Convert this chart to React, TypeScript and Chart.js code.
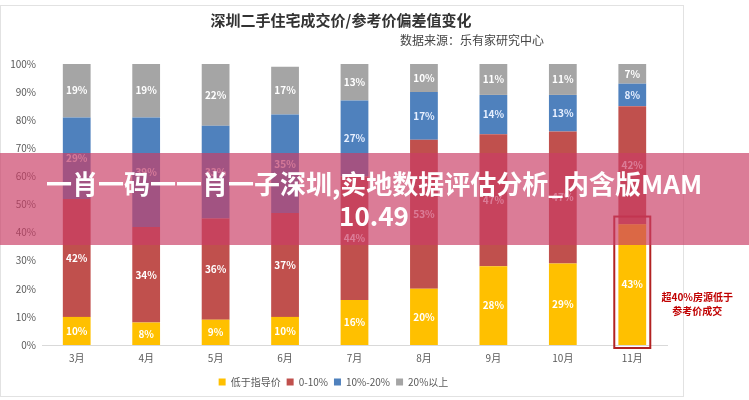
import React, { useEffect, useRef } from "react";
import { Chart, registerables } from "chart.js";

Chart.register(...registerables);

const categories = ["3月", "4月", "5月", "6月", "7月", "8月", "9月", "10月", "11月"];
const seriesNames = ["低于指导价", "0-10%", "10%-20%", "20%以上"];
const belowGuide = [10, 8, 9, 10, 16, 20, 28, 29, 43];
const range0to10 = [42, 34, 36, 37, 44, 53, 47, 47, 42];
const range10to20 = [29, 39, 33, 35, 27, 17, 14, 13, 8];
const above20 = [19, 19, 22, 17, 13, 10, 11, 11, 7];
const yTicks = [0, 10, 20, 30, 40, 50, 60, 70, 80, 90, 100];
const titleText = "深圳二手住宅成交价/参考价偏差值变化";
const subtitleText = "数据来源：乐有家研究中心";
const noteLines = ["超40%房源低于", "参考价成交"];
const bannerLines = ["一肖一码一一肖一子深圳,实地数据评估分析_内含版MAM", "10.49"];

const colors = ["#FFC000", "#C0504D", "#4F81BD", "#A5A5A5"];
const FONT = "'Microsoft YaHei', 'Noto Sans CJK SC', 'Noto Sans', sans-serif";

const decorPlugin = {
  id: "decor",
  beforeDraw(chart: any) {
    const ctx = chart.ctx;
    ctx.save();
    ctx.fillStyle = "#fff";
    ctx.fillRect(0, 0, chart.width, chart.height);
    ctx.strokeStyle = "#e2e2e2";
    ctx.lineWidth = 1;
    ctx.strokeRect(0.5, 5.5, 683, 391);
    ctx.fillStyle = "#333";
    ctx.font = `bold 15px ${FONT}`;
    ctx.textAlign = "center";
    ctx.textBaseline = "middle";
    ctx.fillText(titleText, 341, 20);
    ctx.fillStyle = "#444";
    ctx.font = `12px ${FONT}`;
    ctx.textAlign = "left";
    ctx.fillText(subtitleText, 400, 40);
    ctx.restore();
  },
  afterDatasetsDraw(chart: any) {
    const ctx = chart.ctx;
    ctx.save();
    ctx.font = `bold 10px ${FONT}`;
    ctx.textAlign = "center";
    ctx.textBaseline = "middle";
    chart.data.datasets.forEach((ds: any, di: number) => {
      const meta = chart.getDatasetMeta(di);
      meta.data.forEach((bar: any, i: number) => {
        const v = ds.data[i];
        const cy = (bar.y + bar.base) / 2;
        ctx.fillStyle = di === 2 ? "#e8f0ff" : "#ffffff";
        ctx.fillText(v + "%", bar.x, cy);
      });
    });
    const yScale = chart.scales.y;
    const last = chart.getDatasetMeta(0).data[categories.length - 1];
    const top = yScale.getPixelForValue(45) - 2;
    const bottom = yScale.getPixelForValue(0) + 3;
    ctx.strokeStyle = "#B22222";
    ctx.lineWidth = 2;
    ctx.strokeRect(last.x - 18, top, 36, bottom - top);
    ctx.fillStyle = "#C00000";
    ctx.font = `bold 10px ${FONT}`;
    ctx.fillText(noteLines[0], last.x + 65, 297);
    ctx.fillText(noteLines[1], last.x + 65, 311);
    ctx.fillStyle = "rgba(202, 62, 102, 0.68)";
    ctx.fillRect(0, 153, chart.width, 92);
    ctx.fillStyle = "#fff";
    ctx.font = `bold 26px ${FONT}`;
    ctx.fillText(bannerLines[0], 374, 184);
    ctx.fillText(bannerLines[1], 374, 216);
    ctx.restore();
  },
};

export default function App() {
  const ref = useRef<HTMLCanvasElement>(null);
  useEffect(() => {
    if (!ref.current) return;
    const values = [belowGuide, range0to10, range10to20, above20];
    const chart = new Chart(ref.current, {
      type: "bar",
      data: {
        labels: categories,
        datasets: seriesNames.map((name, i) => ({
          label: name,
          data: values[i],
          backgroundColor: colors[i],
          borderWidth: 0,
          categoryPercentage: 1,
          barPercentage: 0.4,
        })),
      },
      options: {
        animation: false,
        responsive: false,
        maintainAspectRatio: false,
        layout: { padding: { top: 64, right: 82, bottom: 3, left: 0 } },
        plugins: {
          legend: {
            position: "bottom",
            labels: {
              boxWidth: 7,
              boxHeight: 7,
              padding: 6,
              color: "#595959",
              font: { size: 10, family: FONT },
            },
          },
          tooltip: { enabled: false },
        },
        scales: {
          x: {
            stacked: true,
            grid: { display: false, drawTicks: false },
            border: { display: true, color: "#d9d9d9" },
            ticks: { color: "#595959", font: { size: 10, family: FONT }, padding: 7 },
          },
          y: {
            stacked: true,
            min: 0,
            max: 100,
            afterFit: (s: any) => { s.width = 42; },
            afterBuildTicks: (s: any) => { s.ticks = yTicks.map((v) => ({ value: v })); },
            grid: { display: false, drawTicks: false },
            border: { display: false },
            ticks: {
              color: "#595959",
              font: { size: 10, family: FONT },
              padding: 6,
              callback: (v: any) => v + "%",
            },
          },
        },
      },
      plugins: [decorPlugin],
    });
    return () => chart.destroy();
  }, []);
  return (
    <div style={{ position: "fixed", left: 0, top: 0, width: 749, height: 400, background: "#fff" }}>
      <canvas ref={ref} width={749} height={400} style={{ width: 749, height: 400 }} />
    </div>
  );
}
